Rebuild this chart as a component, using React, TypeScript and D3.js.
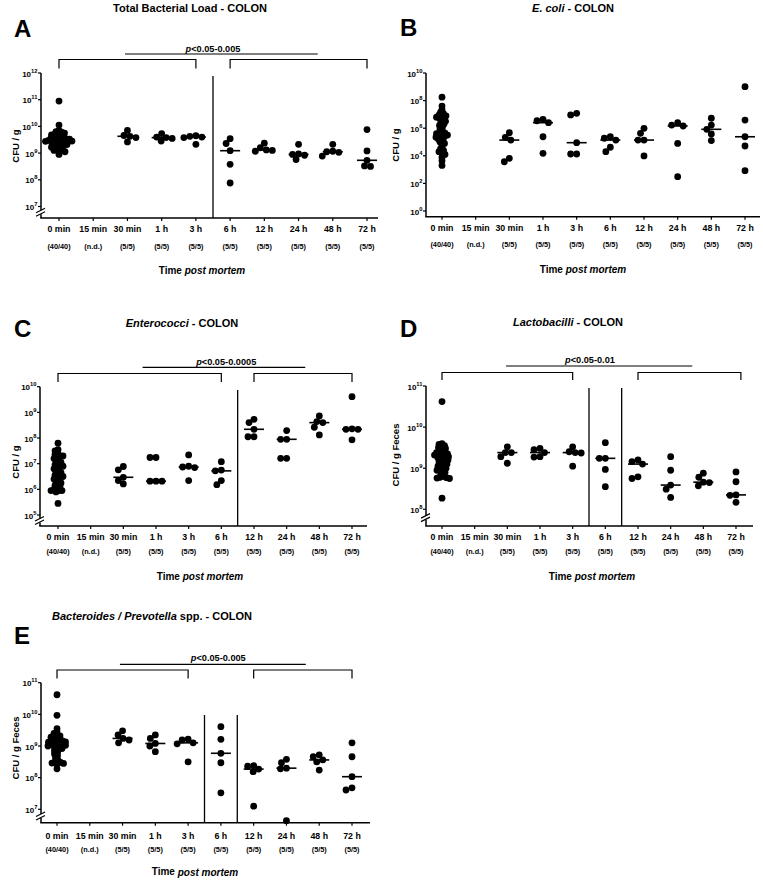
import React from 'react';
import * as d3 from 'd3';

// ---------- shared categories ----------
const categories = ["0 min", "15 min", "30 min", "1 h", "3 h", "6 h", "12 h", "24 h", "48 h", "72 h"];
const sampleCounts = ["(40/40)", "(n.d.)", "(5/5)", "(5/5)", "(5/5)", "(5/5)", "(5/5)", "(5/5)", "(5/5)", "(5/5)"];

// ---------- data (log10 CFU) ----------
const totalLoadLog10: number[][] = [
  [10.95, 10.05, 9.85, 9.8, 9.78, 9.75, 9.72, 9.7, 9.68, 9.65, 9.62, 9.6, 9.58, 9.56, 9.55, 9.53, 9.52, 9.5, 9.49, 9.48, 9.47, 9.45, 9.44, 9.42, 9.4, 9.38, 9.36, 9.35, 9.32, 9.3, 9.28, 9.25, 9.22, 9.2, 9.15, 9.12, 9.1, 9.08, 9.05, 8.95],
  [],
  [9.85, 9.66, 9.63, 9.58, 9.42],
  [9.73, 9.6, 9.58, 9.55, 9.45],
  [9.65, 9.63, 9.6, 9.58, 9.33],
  [9.54, 9.36, 9.09, 8.58, 7.88],
  [9.37, 9.2, 9.12, 9.1, 9.07],
  [9.33, 8.97, 8.95, 8.92, 8.76],
  [9.33, 9.07, 9.05, 9.03, 8.89],
  [9.88, 9.08, 8.73, 8.52, 8.5],
];

const eColiLog10: number[][] = [
  [8.25, 7.6, 7.35, 7.15, 7.05, 6.95, 6.9, 6.85, 6.8, 6.7, 6.6, 6.5, 6.4, 6.3, 6.2, 6.1, 5.95, 5.8, 5.7, 5.65, 5.6, 5.55, 5.5, 5.45, 5.4, 5.35, 5.3, 5.2, 5.1, 5.0, 4.9, 4.7, 4.5, 4.4, 4.3, 4.2, 4.1, 3.9, 3.65, 3.3],
  [],
  [5.67, 5.34, 5.14, 3.82, 3.57],
  [6.64, 6.54, 6.4, 5.38, 4.18],
  [7.08, 6.96, 4.95, 4.13, 4.13],
  [5.38, 5.27, 5.14, 4.62, 4.3],
  [5.99, 5.63, 5.14, 5.14, 3.99],
  [6.4, 6.23, 6.16, 4.9, 2.49],
  [6.72, 6.23, 5.92, 5.58, 5.1],
  [9.01, 6.59, 5.38, 4.71, 2.92],
];

const enterococciLog10: number[][] = [
  [7.8, 7.55, 7.5, 7.4, 7.35, 7.3, 7.3, 7.25, 7.2, 7.15, 7.1, 7.05, 7.0, 6.95, 6.9, 6.9, 6.85, 6.8, 6.75, 6.7, 6.65, 6.6, 6.55, 6.5, 6.5, 6.45, 6.4, 6.35, 6.3, 6.25, 6.2, 6.15, 6.1, 6.05, 6.0, 5.95, 5.95, 5.95, 5.9, 5.45],
  [],
  [6.89, 6.76, 6.47, 6.34, 6.21],
  [7.24, 7.24, 6.32, 6.32, 6.32],
  [7.34, 6.9, 6.87, 6.85, 6.34],
  [7.08, 6.75, 6.72, 6.34, 6.18],
  [8.73, 8.6, 8.34, 8.05, 8.05],
  [8.29, 7.95, 7.95, 7.21, 7.21],
  [8.86, 8.64, 8.6, 8.42, 8.12],
  [9.61, 8.36, 8.34, 8.34, 7.93],
];

const lactobacilliLog10: number[][] = [
  [10.62, 9.6, 9.58, 9.55, 9.52, 9.5, 9.48, 9.45, 9.42, 9.4, 9.38, 9.36, 9.35, 9.33, 9.32, 9.3, 9.28, 9.26, 9.25, 9.23, 9.2, 9.18, 9.15, 9.12, 9.1, 9.08, 9.05, 9.02, 9.0, 8.98, 8.95, 8.92, 8.9, 8.85, 8.8, 8.78, 8.77, 8.76, 8.75, 8.27],
  [],
  [9.52, 9.38, 9.38, 9.28, 9.12],
  [9.48, 9.45, 9.38, 9.28, 9.27],
  [9.52, 9.4, 9.38, 9.37, 9.05],
  [9.62, 9.24, 9.24, 8.97, 8.55],
  [9.2, 9.16, 9.1, 8.79, 8.75],
  [9.28, 8.95, 8.59, 8.49, 8.29],
  [8.88, 8.78, 8.66, 8.65, 8.57],
  [8.91, 8.67, 8.35, 8.34, 8.17],
];

const bacteroidesLog10: number[][] = [
  [10.62, 9.97, 9.55, 9.45, 9.4, 9.35, 9.32, 9.3, 9.28, 9.25, 9.22, 9.2, 9.18, 9.16, 9.15, 9.13, 9.12, 9.1, 9.08, 9.06, 9.05, 9.03, 9.02, 9.0, 8.98, 8.95, 8.92, 8.9, 8.85, 8.8, 8.75, 8.7, 8.62, 8.55, 8.5, 8.48, 8.46, 8.45, 8.42, 8.28],
  [],
  [9.48, 9.35, 9.24, 9.19, 9.1],
  [9.35, 9.24, 9.08, 9.0, 8.82],
  [9.22, 9.19, 9.1, 9.07, 8.5],
  [9.61, 9.21, 8.77, 8.47, 7.52],
  [8.38, 8.36, 8.27, 8.19, 7.1],
  [8.58, 8.47, 8.3, 8.28, 6.64],
  [8.72, 8.66, 8.56, 8.5, 8.24],
  [9.1, 8.66, 8.03, 7.68, 7.61],
];

// ---------- layout ----------
const FONT = "'Liberation Sans', Arial, Helvetica, sans-serif";

type Seg = [string, boolean];
type Bracket = {
  label: string;
  y: number; drop: number;
  left: [number, number]; right: [number, number];
  bar: [number, number]; barY: number;
  textIdx: number; textY: number;
};
type Panel = {
  letter: string; letterX: number; letterY: number;
  title: Seg[]; titleX: number; titleY: number;
  yLabel: string; yLabelX: number; yLabelY: number;
  axisX: number; axisEnd: number; axisY: number; axisTop: number;
  minExp: number; maxExp: number; tickStep: number;
  yMinPx: number; yMaxPx: number;
  xFrom: number; xTo: number;
  brk: boolean;
  dividers: number[]; dividerTop: number;
  bracket?: Bracket;
  data: number[][];
  dy: [number, number, number];
  timeX: number;
};

const panels: Panel[] = [
  {
    letter: "A", letterX: 14, letterY: 37,
    title: [["Total Bacterial Load - COLON", false]], titleX: 190, titleY: 8,
    yLabel: "CFU / g", yLabelX: 15, yLabelY: 146,
    axisX: 41, axisEnd: 378, axisY: 218, axisTop: 73,
    minExp: 7, maxExp: 12, tickStep: 1, yMinPx: 206.5, yMaxPx: 73,
    xFrom: 59, xTo: 367, brk: true,
    dividers: [4.5], dividerTop: 76,
    bracket: { label: "<0.05-0.005", y: 59.5, drop: 9, left: [0, 4], right: [5, 9], bar: [1.93, 7.56], barY: 54, textIdx: 4.5, textY: 48.5 },
    data: totalLoadLog10, dy: [11.3, 28, 52], timeX: 202,
  },
  {
    letter: "B", letterX: 400, letterY: 36,
    title: [["E. coli", true], [" - COLON", false]], titleX: 573, titleY: 8,
    yLabel: "CFU / g", yLabelX: 395, yLabelY: 145,
    axisX: 426, axisEnd: 760, axisY: 216.7, axisTop: 73,
    minExp: 0, maxExp: 10, tickStep: 2, yMinPx: 211, yMaxPx: 73,
    xFrom: 442, xTo: 745, brk: false,
    dividers: [], dividerTop: 0,
    data: eColiLog10, dy: [11.7, 27.7, 52.7], timeX: 583,
  },
  {
    letter: "C", letterX: 14, letterY: 337,
    title: [["Enterococci", true], [" - COLON", false]], titleX: 182, titleY: 323.3,
    yLabel: "CFU / g", yLabelX: 15, yLabelY: 462,
    axisX: 40, axisEnd: 367, axisY: 526, axisTop: 386.7,
    minExp: 5, maxExp: 10, tickStep: 1, yMinPx: 515, yMaxPx: 386.7,
    xFrom: 58, xTo: 352, brk: true,
    dividers: [5.5], dividerTop: 390,
    bracket: { label: "<0.05-0.0005", y: 373.5, drop: 8.5, left: [0, 5], right: [6, 9], bar: [2.59, 7.57], barY: 367.3, textIdx: 5.15, textY: 361.5 },
    data: enterococciLog10, dy: [10.7, 25.7, 50], timeX: 200,
  },
  {
    letter: "D", letterX: 400, letterY: 337,
    title: [["Lactobacilli", true], [" - COLON", false]], titleX: 568, titleY: 321.7,
    yLabel: "CFU / g Feces", yLabelX: 395, yLabelY: 455,
    axisX: 426, axisEnd: 753, axisY: 526, axisTop: 386,
    minExp: 8, maxExp: 11, tickStep: 1, yMinPx: 509.3, yMaxPx: 386,
    xFrom: 442, xTo: 736, brk: true,
    dividers: [4.5, 5.5], dividerTop: 388,
    bracket: { label: "<0.05-0.01", y: 372.5, drop: 7.5, left: [0, 4], right: [6, 9.15], bar: [1.96, 7.66], barY: 366, textIdx: 4.53, textY: 360 },
    data: lactobacilliLog10, dy: [10.7, 25.7, 50], timeX: 592,
  },
  {
    letter: "E", letterX: 14, letterY: 643.5,
    title: [["Bacteroides / Prevotella", true], [" spp. - COLON", false]], titleX: 152, titleY: 616,
    yLabel: "CFU / g Feces", yLabelX: 15, yLabelY: 748,
    axisX: 41, axisEnd: 370, axisY: 822.7, axisTop: 682.7,
    minExp: 7, maxExp: 11, tickStep: 1, yMinPx: 809.3, yMaxPx: 682.7,
    xFrom: 57, xTo: 352, brk: true,
    dividers: [4.5, 5.5], dividerTop: 715,
    bracket: { label: "<0.05-0.005", y: 670, drop: 8.5, left: [0, 4], right: [6, 9], bar: [1.92, 7.59], barY: 664.3, textIdx: 4.92, textY: 657.7 },
    data: bacteroidesLog10, dy: [13.3, 26.7, 49], timeX: 195,
  },
];

// beeswarm layout: horizontal offsets so dots don't pile up
function swarm(ys: number[], minDist: number): number[] {
  const order = ys.map((_, i) => i).sort((a, b) => ys[a] - ys[b]);
  const placed: { x: number; y: number }[] = [];
  const xs = new Array(ys.length).fill(0);
  for (const i of order) {
    const y = ys[i];
    let best = 0;
    for (let k = 0; k < 400; k++) {
      const cand = k === 0 ? 0 : (k % 2 === 1 ? -1 : 1) * Math.ceil(k / 2) * 0.5;
      if (placed.every(p => (p.x - cand) ** 2 + (p.y - y) ** 2 >= minDist * minDist)) { best = cand; break; }
    }
    xs[i] = best;
    placed.push({ x: best, y });
  }
  return xs;
}

function PanelView({ p }: { p: Panel }) {
  const x = d3.scalePoint<string>().domain(categories).range([p.xFrom, p.xTo]);
  const step = x.step();
  const xi = (i: number) => p.xFrom + i * step;
  const y = d3.scaleLog().domain([Math.pow(10, p.minExp), Math.pow(10, p.maxExp)]).range([p.yMinPx, p.yMaxPx]);
  const ticks = d3.range(p.minExp, p.maxExp + 1, p.tickStep);
  const r = 3.4;
  const breakY = (p.yMinPx + p.axisY) / 2;
  const b = p.bracket;

  return (
    <g fontFamily={FONT} fontWeight="bold" fill="#000">
      {/* panel letter */}
      <text x={p.letterX} y={p.letterY} fontSize={24}>{p.letter}</text>
      {/* title */}
      <text x={p.titleX} y={p.titleY} fontSize={11} textAnchor="middle" dominantBaseline="central">
        {p.title.map(([t, it], i) => <tspan key={i} fontStyle={it ? 'italic' : 'normal'}>{t}</tspan>)}
      </text>
      {/* y label */}
      <text transform={`translate(${p.yLabelX},${p.yLabelY}) rotate(-90)`} fontSize={9.5} textAnchor="middle" dominantBaseline="central">{p.yLabel}</text>

      {/* y axis */}
      {p.brk ? (
        <>
          <line x1={p.axisX} x2={p.axisX} y1={p.axisTop} y2={breakY - 2} stroke="#000" strokeWidth={1.5} />
          <line x1={p.axisX} x2={p.axisX} y1={breakY + 2} y2={p.axisY} stroke="#000" strokeWidth={1.5} />
          <line x1={p.axisX - 5} x2={p.axisX + 4} y1={breakY + 0.5} y2={breakY - 4} stroke="#000" strokeWidth={1.2} />
          <line x1={p.axisX - 5} x2={p.axisX + 4} y1={breakY + 4} y2={breakY - 0.5} stroke="#000" strokeWidth={1.2} />
        </>
      ) : (
        <line x1={p.axisX} x2={p.axisX} y1={p.axisTop} y2={p.axisY} stroke="#000" strokeWidth={1.5} />
      )}
      {ticks.map(e => (
        <g key={e}>
          <line x1={p.axisX - 3} x2={p.axisX} y1={y(Math.pow(10, e))} y2={y(Math.pow(10, e))} stroke="#000" strokeWidth={1.2} />
          <text x={p.axisX - 3.5} y={y(Math.pow(10, e)) + 1} fontSize={8} textAnchor="end" dominantBaseline="central">
            10<tspan dy={-3.4} fontSize={5.8}>{e}</tspan>
          </text>
        </g>
      ))}

      {/* x axis */}
      <line x1={p.axisX - 0.75} x2={p.axisEnd} y1={p.axisY} y2={p.axisY} stroke="#000" strokeWidth={1.5} />
      {categories.map((c, i) => (
        <g key={c}>
          <line x1={x(c)!} x2={x(c)!} y1={p.axisY} y2={p.axisY + 3} stroke="#000" strokeWidth={1.2} />
          <text x={x(c)!} y={p.axisY + p.dy[0]} fontSize={8.8} textAnchor="middle" dominantBaseline="central">{c}</text>
          <text x={x(c)!} y={p.axisY + p.dy[1]} fontSize={7.3} textAnchor="middle" dominantBaseline="central">{sampleCounts[i]}</text>
        </g>
      ))}
      <text x={p.timeX} y={p.axisY + p.dy[2]} fontSize={10} textAnchor="middle" dominantBaseline="central">
        Time <tspan fontStyle="italic">post mortem</tspan>
      </text>

      {/* dividers */}
      {p.dividers.map(d => (
        <line key={d} x1={xi(d)} x2={xi(d)} y1={p.dividerTop} y2={p.axisY} stroke="#000" strokeWidth={1.3} />
      ))}

      {/* significance brackets */}
      {b && (
        <g stroke="#000" strokeWidth={1.2} fill="none">
          <path d={`M${xi(b.left[0])},${b.y + b.drop}V${b.y}H${xi(b.left[1])}V${b.y + b.drop}`} />
          <path d={`M${xi(b.right[0])},${b.y + b.drop}V${b.y}H${xi(b.right[1])}V${b.y + b.drop}`} />
          <line x1={xi(b.bar[0])} x2={xi(b.bar[1])} y1={b.barY} y2={b.barY} />
        </g>
      )}
      {b && (
        <text x={xi(b.textIdx)} y={b.textY} fontSize={9.2} textAnchor="middle" dominantBaseline="central">
          <tspan fontStyle="italic">p</tspan>{b.label}
        </text>
      )}

      {/* data */}
      {p.data.map((vals, i) => {
        if (!vals.length) return null;
        const cx = x(categories[i])!;
        const ys = vals.map(v => y(Math.pow(10, v)));
        const offs = swarm(ys, vals.length > 10 ? 3.0 : 6.0);
        const med = d3.median(vals)!;
        const my = y(Math.pow(10, med));
        return (
          <g key={i}>
            {vals.length <= 10 && <line x1={cx - 10} x2={cx + 10} y1={my} y2={my} stroke="#000" strokeWidth={1.6} />}
            {ys.map((yy, j) => <circle key={j} cx={cx + offs[j]} cy={yy} r={r} fill="#000" />)}
          </g>
        );
      })}
    </g>
  );
}

export default function App() {
  return (
    <svg width={763} height={881} style={{ position: 'absolute', left: 0, top: 0, background: '#fff' }}>
      <rect width={763} height={881} fill="#fff" />
      {panels.map(p => <PanelView key={p.letter} p={p} />)}
    </svg>
  );
}
